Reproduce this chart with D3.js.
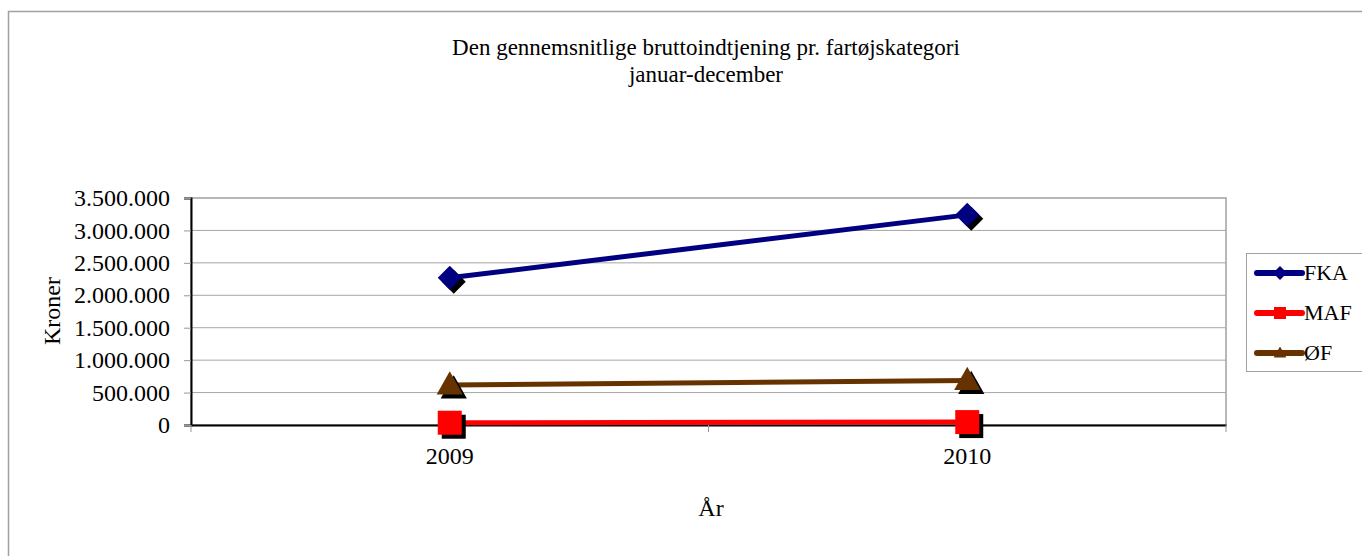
<!DOCTYPE html>
<html>
<head>
<meta charset="utf-8">
<script src="https://cdn.jsdelivr.net/npm/d3@7"></script>
<style>
  body { margin: 0; background: #fff; }
</style>
</head>
<body>
<svg id="chart" width="1362" height="556"></svg>
<script>
// data
const years = ["2009", "2010"];
const fka = [2270000, 3240000];
const maf = [35000, 45000];
const oef = [615000, 685000];
const yTicks = [0, 500000, 1000000, 1500000, 2000000, 2500000, 3000000, 3500000];

const series = [
  { name: "FKA", values: fka, color: "#000080", shape: "diamond" },
  { name: "MAF", values: maf, color: "#ff0000", shape: "square" },
  { name: "ØF", values: oef, color: "#663300", shape: "triangle" }
];

const FONT = "'Liberation Serif', 'Times New Roman', serif";

const svg = d3.select("#chart");
const margin = { top: 198, left: 191 };
const width = 1035, height = 227;

// outer chart frame
svg.append("rect")
  .attr("x", 8.5).attr("y", 11.5)
  .attr("width", 1400).attr("height", 600)
  .attr("fill", "none").attr("stroke", "#a0a0a0").attr("stroke-width", 1.5);

const fmt = d => d === 0 ? "0" : d3.format(",")(d).replace(/,/g, ".");

const x = d3.scaleBand().domain(years).range([0, width]).padding(0);
const y = d3.scaleLinear().domain([0, 3500000]).range([height, 0]);

const g = svg.append("g").attr("transform", `translate(${margin.left},${margin.top})`);

// plot area border (gray top/right)
g.append("rect")
  .attr("width", width).attr("height", height)
  .attr("fill", "none").attr("stroke", "#a0a0a0").attr("stroke-width", 1.5);

// gridlines
g.selectAll(".grid").data(yTicks.slice(1, -1)).enter().append("line")
  .attr("x1", 0).attr("x2", width)
  .attr("y1", d => y(d)).attr("y2", d => y(d))
  .attr("stroke", "#a6a6a6").attr("stroke-width", 1);

// y-axis
const yAxis = g.append("g")
  .call(d3.axisLeft(y).tickValues(yTicks).tickFormat(fmt).tickSize(7).tickPadding(14));
yAxis.attr("font-family", FONT).attr("font-size", 24);
yAxis.select(".domain").attr("stroke", "#000").attr("stroke-width", 2);
yAxis.selectAll(".tick line").attr("stroke", "#999");
yAxis.selectAll("text").attr("fill", "#000");

// x-axis, ticks at category boundaries
const xAxis = g.append("g").attr("transform", `translate(0,${height})`)
  .call(d3.axisBottom(x).tickSize(0).tickPadding(22));
xAxis.attr("font-family", FONT).attr("font-size", 24);
xAxis.select(".domain").attr("stroke", "#000").attr("stroke-width", 2);
xAxis.selectAll("text").attr("fill", "#000");
g.selectAll(".xtick").data([0, 1, 2]).enter().append("line")
  .attr("x1", i => i * x.bandwidth()).attr("x2", i => i * x.bandwidth())
  .attr("y1", height).attr("y2", height + 7)
  .attr("stroke", "#999").attr("stroke-width", 1);

// lines
const line = d3.line()
  .x((d, i) => x(years[i]) + x.bandwidth() / 2)
  .y(d => y(d));

series.forEach(s => {
  g.append("path")
    .datum(s.values)
    .attr("d", line)
    .attr("fill", "none")
    .attr("stroke", s.color)
    .attr("stroke-width", 5);
});

function shapePath(shape, r) {
  if (shape === "diamond") return `M0,${-r}L${r},0L0,${r}L${-r},0Z`;
  if (shape === "square") return `M${-r},${-r}H${r}V${r}H${-r}Z`;
  return `M0,${-r * 1.1}L${r * 1.05},${r * 0.75}L${-r * 1.05},${r * 0.75}Z`;
}
const markerSize = { diamond: 12, square: 12, triangle: 12.5 };

series.forEach(s => {
  s.values.forEach((v, i) => {
    const cx = x(years[i]) + x.bandwidth() / 2, cy = y(v);
    const r = markerSize[s.shape];
    g.append("path").attr("d", shapePath(s.shape, r))
      .attr("transform", `translate(${cx + 4},${cy + 4})`).attr("fill", "#000");
    g.append("path").attr("d", shapePath(s.shape, r))
      .attr("transform", `translate(${cx},${cy})`).attr("fill", s.color);
  });
});

const txt = svg.append("g").attr("font-family", FONT);

// title
txt.append("text").attr("x", 706).attr("y", 55).attr("text-anchor", "middle")
  .attr("font-size", 23).text("Den gennemsnitlige bruttoindtjening pr. fartøjskategori");
txt.append("text").attr("x", 706).attr("y", 82).attr("text-anchor", "middle")
  .attr("font-size", 23).text("januar-december");

// axis titles
txt.append("text").attr("transform", "translate(60,311) rotate(-90)")
  .attr("text-anchor", "middle").attr("font-size", 24).text("Kroner");
txt.append("text").attr("x", 711).attr("y", 516).attr("text-anchor", "middle")
  .attr("font-size", 24).text("År");

// legend
const lg = svg.append("g").attr("transform", "translate(1246,253)").attr("font-family", FONT);
lg.append("rect").attr("x", 0.5).attr("y", 0.5).attr("width", 120).attr("height", 118)
  .attr("fill", "#fff").attr("stroke", "#a0a0a0").attr("stroke-width", 1);
series.forEach((s, i) => {
  const ly = 20 + i * 40;
  lg.append("line").attr("x1", 11).attr("x2", 56).attr("y1", ly).attr("y2", ly)
    .attr("stroke", s.color).attr("stroke-width", 6).attr("stroke-linecap", "round");
  lg.append("path").attr("d", shapePath(s.shape, s.shape === "diamond" ? 7 : 6))
    .attr("transform", `translate(34,${ly})`).attr("fill", s.color);
  lg.append("text").attr("x", 58).attr("y", ly + 7).attr("font-size", 22).text(s.name);
});
</script>
</body>
</html>
